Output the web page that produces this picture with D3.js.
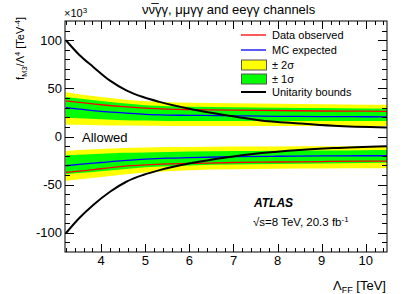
<!DOCTYPE html>
<html>
<head>
<meta charset="utf-8">
<script src="https://cdn.jsdelivr.net/npm/d3@7"></script>
<style>
  html, body { margin: 0; padding: 0; background: #fff; }
  svg { display: block; font-family: "Liberation Sans", Arial, Helvetica, sans-serif; }
</style>
</head>
<body>
<script>
const lambdaFF = [3.2, 3.5, 4, 4.5, 5, 5.5, 6, 7, 8, 9, 10, 10.5];

// positive-side limits (x10^3 TeV^-4)
const posObserved = [37, 35.5, 33, 31, 29.5, 28.5, 28, 27.5, 27, 26.5, 26.3, 26.2];
const posExpected = [30, 28.5, 26, 24.5, 23, 22.3, 22, 21.5, 21, 20.7, 20.5, 20.4];
const pos1sLo = [19.5, 19, 18, 17, 16.5, 16.2, 16, 16, 16, 16, 16, 16];
const pos1sHi = [41, 39.5, 37, 34.5, 32.5, 31.5, 31, 30.5, 30, 29.5, 29.2, 29];
const pos2sLo = [12.5, 12.2, 11.8, 11.4, 11.2, 11, 11, 11, 11, 11, 11, 11];
const pos2sHi = [46, 44, 41, 38.5, 36.5, 35.5, 35, 34.5, 34, 33.5, 33, 33];

// negative-side limits
const negObserved = [-37.2, -36, -33.5, -31, -29.5, -28.5, -28, -27, -26.5, -26, -25.6, -25.5];
const negExpected = [-30.4, -29, -27, -25, -23.5, -22.5, -22, -21, -20.5, -20.2, -20, -20];
const neg1sLo = [-39.3, -38, -36, -34, -32, -31, -30, -29, -28.5, -28, -27.5, -27.3];
const neg1sHi = [-19.5, -19, -18, -17, -16.5, -16, -15.5, -15, -14.7, -14.5, -14.2, -14];
const neg2sLo = [-46.3, -44.5, -42, -39.5, -37.5, -36, -35, -34, -33.5, -33.3, -33.1, -33];
const neg2sHi = [-15, -14, -13, -12, -11.5, -11, -10.8, -10.5, -10.3, -10.2, -10, -10];

// unitarity bounds
const ubLambda = [3.2, 3.5, 3.82, 4.2, 4.57, 4.95, 5.32, 6.08, 6.83, 7.58, 8.5, 9.27, 10.47];
const ubPos = [100, 85, 72.3, 58, 48, 41, 36, 28.1, 22.2, 17, 13.5, 11.1, 9.4];
const ubNeg = [-100.5, -85, -71.2, -57.4, -47, -40, -34.9, -27.3, -21.7, -17.5, -14, -12, -10];

const xTicks = [4, 5, 6, 7, 8, 9, 10];
const yTicks = [-100, -50, 0, 50, 100];

const legendItems = [
  { label: "Data observed", kind: "line", color: "#ff0000" },
  { label: "MC expected", kind: "line", color: "#0000ff" },
  { label: "\u00b1 2\u03c3", kind: "box", color: "#ffff00" },
  { label: "\u00b1 1\u03c3", kind: "box", color: "#00ff00" },
  { label: "Unitarity bounds", kind: "thick", color: "#000000" }
];

const W = 407, H = 294;
const m = { left: 65, right: 20, top: 21, bottom: 42 };

const svg = d3.select("body").append("svg")
  .attr("width", W).attr("height", H);

const x = d3.scaleLinear().domain([3.18, 10.48]).range([m.left, W - m.right]);
const y = d3.scaleLinear().domain([-120, 120]).range([H - m.bottom, m.top]);

svg.append("clipPath").attr("id", "plot")
  .append("rect")
  .attr("x", m.left).attr("y", m.top)
  .attr("width", W - m.left - m.right).attr("height", H - m.top - m.bottom);

const g = svg.append("g").attr("clip-path", "url(#plot)");

const area = (lo, hi) => d3.area()
  .x((d, i) => x(lambdaFF[i]))
  .y0((d, i) => y(lo[i]))
  .y1((d, i) => y(hi[i]))
  .curve(d3.curveMonotoneX)(lambdaFF);

const line = (xs, ys) => d3.line()
  .x((d, i) => x(xs[i]))
  .y((d, i) => y(ys[i]))
  .curve(d3.curveMonotoneX)(xs);

// bands
g.append("path").attr("d", area(pos2sLo, pos2sHi)).attr("fill", "#ffff00");
g.append("path").attr("d", area(neg2sLo, neg2sHi)).attr("fill", "#ffff00");
g.append("path").attr("d", area(pos1sLo, pos1sHi)).attr("fill", "#00ff00");
g.append("path").attr("d", area(neg1sLo, neg1sHi)).attr("fill", "#00ff00");

// observed / expected
[[posObserved, "#ff0000"], [negObserved, "#ff0000"], [posExpected, "#0000ff"], [negExpected, "#0000ff"]]
  .forEach(([ys, c]) => {
    g.append("path").attr("d", line(lambdaFF, ys))
      .attr("fill", "none").attr("stroke", c).attr("stroke-width", 1.3);
  });

// unitarity bounds
[ubPos, ubNeg].forEach(ys => {
  g.append("path").attr("d", line(ubLambda, ys))
    .attr("fill", "none").attr("stroke", "#000").attr("stroke-width", 2);
});

// frame + ROOT-style inward ticks
const x0 = m.left, x1 = W - m.right, y0 = H - m.bottom, y1 = m.top;
const axes = svg.append("g").attr("stroke", "#000").attr("stroke-width", 1).attr("fill", "none");
axes.append("rect").attr("x", x0).attr("y", y1).attr("width", x1 - x0).attr("height", y0 - y1);

const xMinor = d3.range(3.2, 10.5, 0.2).map(v => +v.toFixed(1));
xMinor.forEach(v => {
  const major = xTicks.includes(v);
  const len = major ? 8 : 4;
  const px = Math.round(x(v)) + 0.5;
  axes.append("line").attr("x1", px).attr("x2", px).attr("y1", y0).attr("y2", y0 - len);
  axes.append("line").attr("x1", px).attr("x2", px).attr("y1", y1).attr("y2", y1 + len);
});

const yMinor = d3.range(-110, 120, 10);
yMinor.forEach(v => {
  const major = yTicks.includes(v);
  const len = major ? 9 : 5;
  const py = Math.round(y(v)) + 0.5;
  axes.append("line").attr("x1", x0).attr("x2", x0 + len).attr("y1", py).attr("y2", py);
  axes.append("line").attr("x1", x1).attr("x2", x1 - len).attr("y1", py).attr("y2", py);
});

// tick labels
svg.append("g").selectAll("text").data(xTicks).join("text")
  .attr("x", d => x(d)).attr("y", 265)
  .attr("text-anchor", "middle").attr("font-size", 13)
  .text(d => d);

svg.append("g").selectAll("text").data(yTicks).join("text")
  .attr("x", 62).attr("y", d => y(d) + 4.5)
  .attr("text-anchor", "end").attr("font-size", 13)
  .text(d => d);

// x10^3 exponent
const ex = svg.append("text").attr("x", 64).attr("y", 17).attr("font-size", 11);
ex.append("tspan").text("\u00d710");
ex.append("tspan").attr("dy", -4).attr("font-size", 8).text("3");

// axis titles
const xt = svg.append("text").attr("x", 386).attr("y", 290)
  .attr("text-anchor", "end").attr("font-size", 13);
xt.append("tspan").text("\u039b");
xt.append("tspan").attr("dy", 3).attr("font-size", 9).text("FF");
xt.append("tspan").attr("dy", -3).text(" [TeV]");

const yt = svg.append("text").attr("transform", "translate(24,17) rotate(-90)")
  .attr("text-anchor", "end").attr("font-size", 11);
yt.append("tspan").text("f");
yt.append("tspan").attr("dy", 2.5).attr("font-size", 7.5).text("M3");
yt.append("tspan").attr("dy", -2.5).text("/\u039b");
yt.append("tspan").attr("dy", -4.5).attr("font-size", 7.5).text("4");
yt.append("tspan").attr("dy", 4.5).text(" [TeV");
yt.append("tspan").attr("dy", -4.5).attr("font-size", 7.5).text("-4");
yt.append("tspan").attr("dy", 4.5).text("]");

// title
svg.append("text").attr("x", 142).attr("y", 14).attr("font-size", 13)
  .text("\u03bd\u03bd\u0305\u03b3\u03b3, \u03bc\u03bc\u03b3\u03b3 and ee\u03b3\u03b3 channels");

// legend
const lg = svg.append("g").attr("transform", "translate(241,0)");
const rowY = [35, 50, 65, 79, 92];
legendItems.forEach((d, i) => {
  const cy = rowY[i];
  if (d.kind === "box") {
    lg.append("rect").attr("x", 0.5).attr("y", cy - 5).attr("width", 25).attr("height", 10)
      .attr("fill", d.color).attr("stroke", "#555").attr("stroke-width", 1);
  } else {
    lg.append("line").attr("x1", 0).attr("x2", 25).attr("y1", cy).attr("y2", cy)
      .attr("stroke", d.color).attr("stroke-width", d.kind === "thick" ? 2 : 1.3);
  }
  lg.append("text").attr("x", 31).attr("y", cy + 4).attr("font-size", 11).text(d.label);
});

// annotations
svg.append("text").attr("x", 82).attr("y", 141.5).attr("font-size", 13).text("Allowed");
svg.append("text").attr("x", 254).attr("y", 207).attr("font-size", 12)
  .attr("font-weight", "bold").attr("font-style", "italic").text("ATLAS");
const en = svg.append("text").attr("x", 253).attr("y", 226).attr("font-size", 11.5);
en.append("tspan").text("\u221as=8 TeV, 20.3 fb");
en.append("tspan").attr("dy", -4).attr("font-size", 8).text("-1");
</script>
</body>
</html>
